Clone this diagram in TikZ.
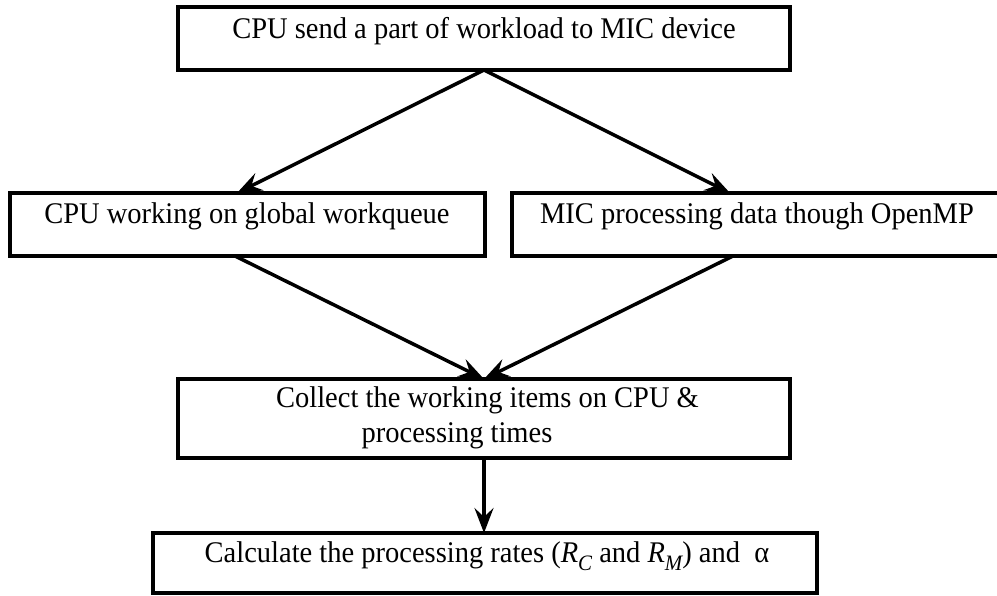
\documentclass[tikz,border=0pt]{standalone}
\usepackage{fontspec}
\setmainfont[FakeStretch=0.95]{Liberation Serif}
\usetikzlibrary{arrows.meta}
\begin{document}
\begin{tikzpicture}[x=1pt,y=-1pt,
  box/.style={draw=black,line width=3.5pt,rectangle,inner sep=0pt,outer sep=0pt},
  txt/.style={anchor=base,inner sep=0pt,font=\fontsize{30pt}{36pt}\selectfont},
  arr/.style={draw=black,line width=3.5pt,-{Stealth[length=25pt,width=19pt,inset=9pt]}}]
\useasboundingbox (0,0) rectangle (997,595);
% boxes
\node[box,minimum width=612pt,minimum height=63pt] (top) at (484,38.5) {};
\node[box,minimum width=475pt,minimum height=63pt] (left) at (247.5,224.5) {};
\node[box,minimum width=487pt,minimum height=63pt] (right) at (755.5,224.5) {};
\node[box,minimum width=612pt,minimum height=79pt] (mid) at (484,418.5) {};
\node[box,minimum width=664pt,minimum height=60pt] (bot) at (485,563) {};
% texts
\node[txt] (ttop) at (484,38.5) {CPU send a part of workload to MIC device};
\node[txt] (tleft) at (247,223) {CPU working on global workqueue};
\node[txt] (tright) at (757,223) {MIC processing data though OpenMP};
\node[txt] (tmid1) at (487.5,407) {Collect the working items on CPU \&};
\node[txt] (tmid2) at (457,442) {processing times};
\node[txt] (tbot) at (487,562) {Calculate the processing rates ({\itshape R}\raisebox{-8pt}{\fontsize{22pt}{24pt}\selectfont\itshape C} and {\itshape R}\raisebox{-8pt}{\fontsize{22pt}{24pt}\selectfont\itshape M}) and\ \ α};
% connectors
\draw[arr] (top.south) -- ([xshift=-10.5pt]left.north);
\draw[arr] (top.south) -- ([xshift=-25.5pt]right.north);
\draw[arr] ([xshift=-12.5pt]left.south) -- (mid.north);
\draw[arr] ([xshift=-22.5pt]right.south) -- (mid.north);
\draw[arr] (mid.south) -- (mid.south |- bot.north);
\end{tikzpicture}
\end{document}
